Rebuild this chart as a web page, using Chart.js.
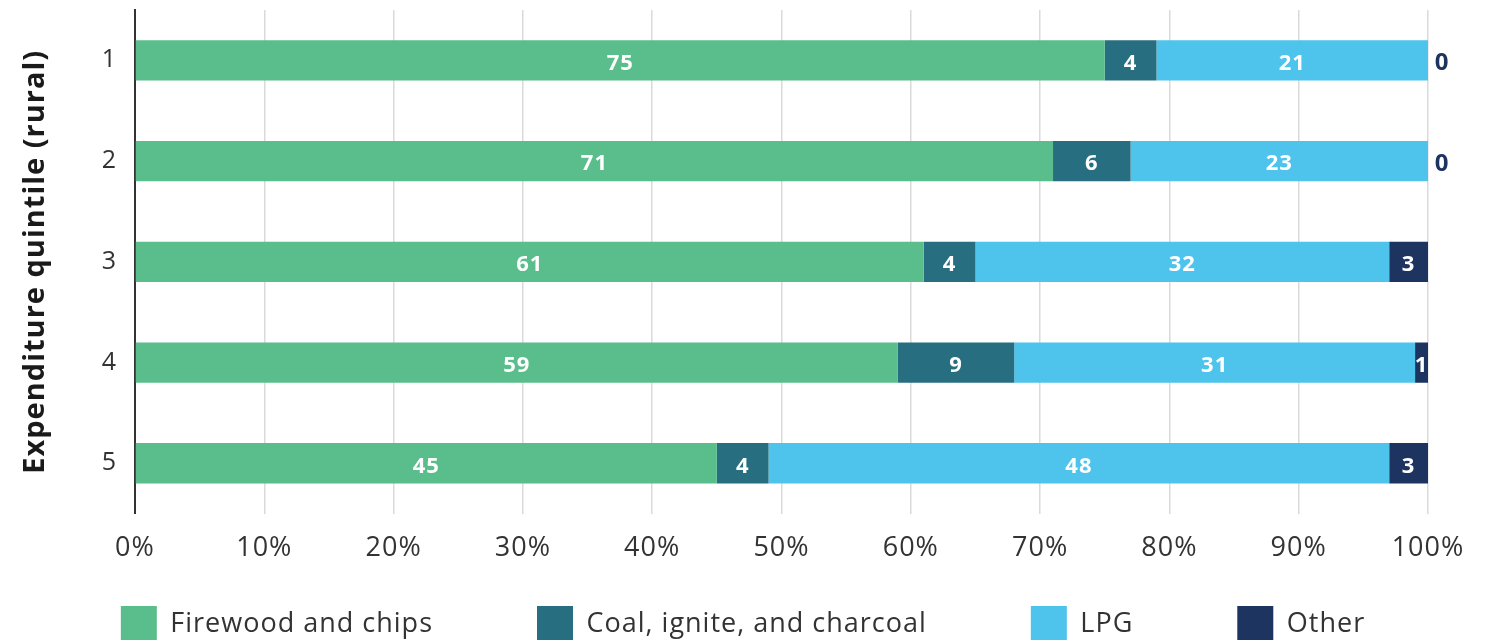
<!DOCTYPE html>
<html>
<head>
<meta charset="utf-8">
<script src="https://cdn.jsdelivr.net/npm/chart.js@4.4.1/dist/chart.umd.min.js"></script>
<style>
  html, body { margin: 0; padding: 0; background: #fff; overflow: hidden; }
  #wrap { position: relative; width: 1486px; height: 640px; }
</style>
</head>
<body>
<div id="wrap"><canvas id="fuelChart"></canvas></div>
<script>
const quintiles = ['1', '2', '3', '4', '5'];
const firewood = [75, 71, 61, 59, 45];
const coal = [4, 6, 4, 9, 4];
const lpg = [21, 23, 32, 31, 48];
const other = [0, 0, 3, 1, 3];
const xTicks = [0, 10, 20, 30, 40, 50, 60, 70, 80, 90, 100];

const FONT = "'Open Sans', 'Noto Sans', sans-serif";
const NAVY = '#1D3461';
const LEGEND_GAP = 104;    // space between legend entries
const LEGEND_TOP_GAP = 22; // space under the x axis before the legend boxes

// a bit of tracking on every text, the canvas state is reset on resize so set it each time
const tracking = {
    id: 'tracking',
    beforeUpdate(chart) { chart.ctx.letterSpacing = '1px'; },
    beforeDraw(chart) { chart.ctx.letterSpacing = '1px'; }
};

// pull the legend up under the axis, the wide item padding would otherwise push it down
const legendPlacement = {
    id: 'legendPlacement',
    afterLayout(chart) {
        const legend = chart.legend;
        legend.top = chart.scales.x.bottom + LEGEND_TOP_GAP - LEGEND_GAP;
        legend.bottom = chart.height;
    }
};

// value labels drawn in the middle of each segment, zero values sit just past the bar end
const segmentLabels = {
    id: 'segmentLabels',
    afterDatasetsDraw(chart) {
        const ctx = chart.ctx;
        ctx.save();
        ctx.textBaseline = 'middle';
        ctx.textAlign = 'center';
        chart.data.datasets.forEach((ds, i) => {
            const meta = chart.getDatasetMeta(i);
            if (meta.hidden) return;
            meta.data.forEach((bar, j) => {
                const value = ds.data[j];
                if (value === 0) {
                    ctx.font = '700 24px ' + FONT;
                    ctx.fillStyle = NAVY;
                    ctx.fillText(String(value), bar.x + 14, bar.y + 3);
                } else {
                    ctx.font = '700 22px ' + FONT;
                    ctx.fillStyle = '#ffffff';
                    ctx.fillText(String(value), (bar.x + bar.base) / 2, bar.y + 3);
                }
            });
        });
        ctx.restore();
    }
};

const ctx = document.getElementById('fuelChart').getContext('2d');
new Chart(ctx, {
    type: 'bar',
    data: {
        labels: quintiles,
        datasets: [
            { label: 'Firewood and chips', data: firewood, backgroundColor: '#5ABE8C' },
            { label: 'Coal, ignite, and charcoal', data: coal, backgroundColor: '#266E80' },
            { label: 'LPG', data: lpg, backgroundColor: '#4EC3EC' },
            { label: 'Other', data: other, backgroundColor: NAVY }
        ]
    },
    options: {
        indexAxis: 'y',
        responsive: true,
        maintainAspectRatio: false,
        animation: false,
        barPercentage: 0.4,
        categoryPercentage: 1,
        layout: {
            padding: { top: 10, left: 0, right: 0, bottom: 0 }
        },
        scales: {
            x: {
                stacked: true,
                min: 0,
                max: 100,
                afterBuildTicks: scale => {
                    scale.ticks = xTicks.map(v => ({ value: v }));
                },
                afterFit: scale => {
                    // room on the right for the zero labels
                    scale.paddingRight = 58;
                },
                border: { display: false },
                grid: { color: '#DADADA', lineWidth: 1.5, drawTicks: false },
                ticks: {
                    padding: 19,
                    color: '#333333',
                    font: { family: FONT, size: 27 },
                    callback: v => v + '%'
                }
            },
            y: {
                stacked: true,
                afterFit: scale => {
                    scale.width = 135;
                    scale.paddingTop = 0;
                    scale.paddingBottom = 0;
                },
                border: { display: true, color: '#333333', width: 2 },
                grid: { display: false },
                ticks: {
                    padding: 10,
                    color: '#333333',
                    font: { family: FONT, size: 25 }
                },
                title: {
                    display: true,
                    text: 'Expenditure quintile (rural)',
                    color: '#1a1a1a',
                    padding: { top: 18, bottom: 0 },
                    font: { family: FONT, size: 29, weight: '700' }
                }
            }
        },
        plugins: {
            legend: {
                position: 'bottom',
                maxHeight: 56,
                labels: {
                    boxWidth: 36,
                    boxHeight: 36,
                    padding: LEGEND_GAP,
                    color: '#333333',
                    font: { family: FONT, size: 27 }
                }
            },
            tooltip: { enabled: false }
        }
    },
    plugins: [tracking, legendPlacement, segmentLabels]
});
</script>
</body>
</html>
